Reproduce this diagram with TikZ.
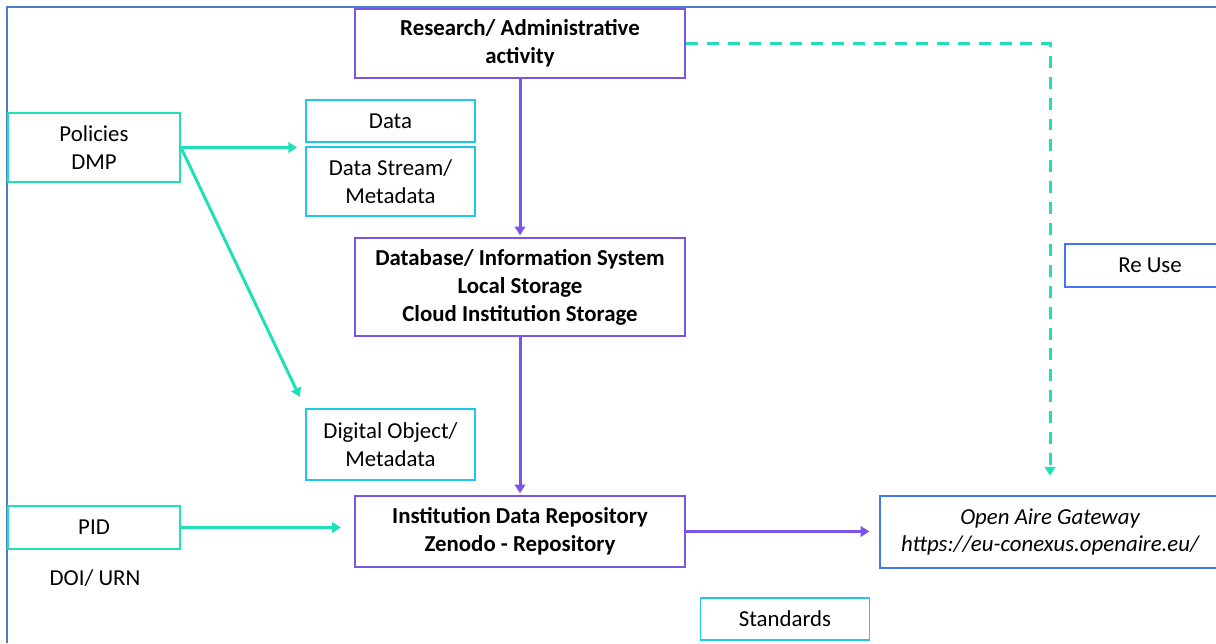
\documentclass[tikz,border=0pt]{standalone}
\usepackage{fontspec}
\setmainfont{Carlito}
\usetikzlibrary{arrows.meta,calc}

\definecolor{oateal}{RGB}{32,224,184}
\definecolor{oacyan}{RGB}{30,200,232}
\definecolor{oapurple}{RGB}{123,85,232}
\definecolor{oablue}{RGB}{63,120,240}
\definecolor{oaframe}{RGB}{74,127,200}

\begin{document}
\begin{tikzpicture}[x=0.02cm,y=-0.02cm,
    box/.style={draw,line width=1.1pt,fill=white,align=center,inner sep=0pt,
        font=\fontsize{13}{15.9}\selectfont},
    tealbox/.style={box,draw=oateal},
    cyanbox/.style={box,draw=oacyan,minimum width=3.38cm},
    purplebox/.style={box,draw=oapurple,minimum width=6.6cm,
        font=\fontsize{13}{15.9}\selectfont\bfseries},
    bluebox/.style={box,draw=oablue},
    tealarrow/.style={draw=oateal,line width=1.7pt,
        -{Triangle[length=5pt,width=6pt]}},
    purplearrow/.style={draw=oapurple,line width=1.7pt,
        -{Triangle[length=5pt,width=6pt]}}]

\useasboundingbox (0,0) rectangle (1216,643);
\clip (0,0) rectangle (1216,643);

% Outer frame, only top and left edge are seen.
\draw[oaframe,line width=1.1pt]
    (7,643) -- (7,7) -- (1216,7);

% Main chain of purple boxes.
\node[purplebox,minimum height=1.38cm] (resact) at (520,43.5)
    {Research/ Administrative\\activity};
\node[purplebox,minimum height=1.96cm] (dbase) at (520,287)
    {Database/ Information System\\Local Storage\\Cloud Institution Storage};
\node[purplebox,minimum height=1.42cm] (instrepo) at (520,531.5)
    {Institution Data Repository\\Zenodo - Repository};

% Policies and PID on the left.
\node[tealbox,minimum width=3.44cm,minimum height=1.38cm] (policy) at (94,147.5)
    {Policies\\DMP};
\node[tealbox,minimum width=3.44cm,minimum height=0.86cm] (pid) at (94,527.5)
    {PID};
\node[font=\fontsize{13}{15.9}\selectfont] (doiurn) at (95,578) {DOI/ URN};

% Data objects.
\node[cyanbox,minimum height=0.84cm] (data) at (390.5,121) {Data};
\node[cyanbox,minimum height=1.38cm] (stream) at (390.5,181.5)
    {Data Stream/\\Metadata};
\node[cyanbox,minimum height=1.42cm] (digobj) at (390.5,444.5)
    {Digital Object/\\Metadata};
\node[cyanbox,minimum height=0.84cm] (standards) at (785,619) {Standards};

% Gateway and re use, cut by the right edge.
\node[bluebox,minimum width=6.8cm,minimum height=1.44cm,
    font=\fontsize{13}{15.9}\selectfont\itshape] (gateway) at (1050,532)
    {Open Aire Gateway\\https://eu-conexus.openaire.eu/};
\node[bluebox,minimum width=3.4cm,minimum height=0.86cm] (reuse) at (1150,265.5)
    {Re Use};

% Purple arrows down the chain.
\foreach \a/\b in {resact/dbase,dbase/instrepo} {
    \draw[purplearrow,shorten >=1pt] (\a.south) -- (\b.north);
}

% Repository out to the gateway.
\draw[purplearrow,shorten >=5.5pt]
    (instrepo.east) -- (instrepo.east -| gateway.west);

% Teal arrows from policies and PID.
\draw[tealarrow,shorten >=4.5pt]
    (policy.east) -- (policy.east -| data.west);
\draw[tealarrow,shorten >=7pt]
    (policy.east) -- (digobj.north west);
\draw[tealarrow,shorten >=7.5pt]
    (pid.east) -- (pid.east -| instrepo.west);

% Dashed re use loop, research to gateway.
\draw[tealarrow,dash pattern=on 6.8pt off 5.1pt,shorten >=11pt]
    (resact.east) -| (gateway.north);

\end{tikzpicture}
\end{document}
